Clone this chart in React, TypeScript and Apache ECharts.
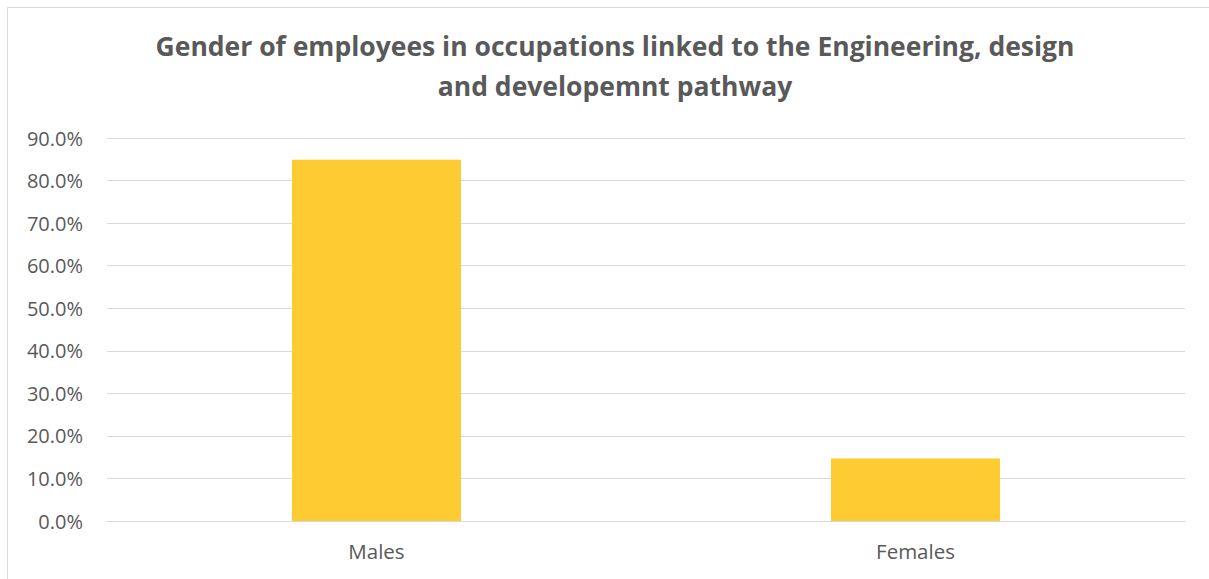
import React, { useEffect, useRef } from "react";
import * as echarts from "echarts";

const categories = ["Males", "Females"];
const values = [84.9, 14.7];
const yTicks = { min: 0, max: 90, interval: 10 };
const titleLines = [
  "Gender of employees in occupations linked to the Engineering, design",
  "and developemnt pathway",
];

export default function App() {
  const ref = useRef<HTMLDivElement>(null);
  useEffect(() => {
    const chart = echarts.init(ref.current!, null, { renderer: "svg" });
    const font = "'Open Sans', 'Noto Sans', sans-serif";
    chart.setOption({
      animation: false,
      backgroundColor: "#ffffff",
      title: {
        text: titleLines.join("\n"),
        left: 610,
        textAlign: "center",
        top: 21,
        textStyle: {
          fontFamily: font,
          fontWeight: "bold",
          fontSize: 26.5,
          color: "#595959",
          lineHeight: 40,
        },
      },
      graphic: [
        {
          type: "rect",
          shape: { x: 7.5, y: 7.5, width: 1220, height: 600 },
          style: { fill: "none", stroke: "#d9d9d9", lineWidth: 1 },
          silent: true,
        },
      ],
      grid: { left: 107, right: 24, top: 138, bottom: 58 },
      xAxis: {
        type: "category",
        data: categories,
        axisLine: { show: true, lineStyle: { color: "#d9d9d9", width: 1 } },
        axisTick: { show: false },
        axisLabel: {
          margin: 19,
          fontFamily: font,
          fontSize: 20.5,
          color: "#595959",
        },
      },
      yAxis: {
        type: "value",
        min: yTicks.min,
        max: yTicks.max,
        interval: yTicks.interval,
        axisLine: { show: false },
        axisTick: { show: false },
        splitLine: { lineStyle: { color: "#d9d9d9", width: 1 } },
        axisLabel: {
          margin: 24,
          fontFamily: font,
          fontSize: 20,
          color: "#595959",
          formatter: (v: number) => v.toFixed(1) + "%",
        },
      },
      series: [
        {
          type: "bar",
          data: values,
          barWidth: 169,
          itemStyle: { color: "#FFCB33" },
        },
      ],
    });
    return () => chart.dispose();
  }, []);
  return (
    <div
      ref={ref}
      style={{ position: "fixed", left: 0, top: 0, width: 1209, height: 579 }}
    />
  );
}
